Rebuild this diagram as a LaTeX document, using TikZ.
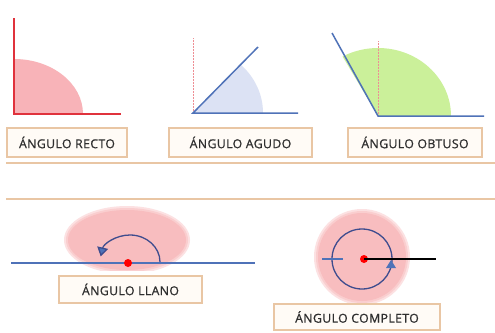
\documentclass[tikz,border=0pt]{standalone}
\usepackage{fontspec}
\setmainfont{Open Sans}
\usetikzlibrary{arrows.meta}
\definecolor{tan}{HTML}{E9C6A4}
\definecolor{cream}{HTML}{FFFBF6}
\definecolor{txt}{HTML}{2E2E2E}
\definecolor{lblue}{HTML}{4F72B8}
\definecolor{dblue}{HTML}{3E4C8E}
\definecolor{rred}{HTML}{E0323C}
\definecolor{pinkA}{HTML}{F8B3B8}
\definecolor{pinkB}{HTML}{F8BDBF}
\definecolor{lav}{HTML}{DCE2F4}
\definecolor{lgreen}{HTML}{CBF09A}
\begin{document}
\begin{tikzpicture}[x=1pt,y=-1pt,
  lbl/.style={draw=tan,line width=1.2pt,fill=cream,text=txt,inner sep=0pt,
    font=\fontsize{12.3}{13}\selectfont\addfontfeatures{LetterSpace=3,FakeBold=0.8},anchor=center},
  sep/.style={draw=tan,line width=1.2pt},
  ray/.style={draw=lblue,line width=1.5pt},
  aux/.style={draw=rred!55,line width=0.5pt,densely dotted}]
\useasboundingbox (0,0) rectangle (495,332);
\fill[white] (0,0) rectangle (495,332);
% --- recto
\coordinate (vR) at (14,114);
\fill[pinkA] (vR) -- (83,114) arc[start angle=0,end angle=-90,x radius=69,y radius=55] -- cycle;
\draw[rred,line width=1.6pt] (14,18) -- (vR) -- (121,114);
\node[lbl,minimum width=120pt,minimum height=29pt] (lr) at (67,142.5) {ÁNGULO RECTO};
% --- agudo
\coordinate (vA) at (193,113);
\fill[lav] (vA) -- (263,113) arc[start angle=0,end angle=-47,x radius=70,y radius=66] -- cycle;
\draw[aux] (193,38) -- (vA);
\coordinate (aA) at (258,47);
\coordinate (bA) at (298,113);
\draw[ray] (aA) -- (vA) -- (bA);
\node[lbl,minimum width=143pt,minimum height=29pt] (la) at (240.5,142.5) {ÁNGULO AGUDO};
% --- obtuso
\coordinate (vO) at (378,116);
\fill[lgreen] (vO) -- (451,116) arc[start angle=0,end angle=-119,x radius=73,y radius=68] -- cycle;
\draw[aux] (378,41) -- (vO);
\coordinate (aO) at (332,33);
\coordinate (bO) at (484,116);
\draw[ray] (aO) -- (vO) -- (bO);
\node[lbl,minimum width=134pt,minimum height=29pt] (lo) at (415,142.5) {ÁNGULO OBTUSO};
% separators
\coordinate (s1a) at (6,163); \coordinate (s1b) at (495,163);
\coordinate (s2a) at (6,199); \coordinate (s2b) at (495,199);
\draw[sep] (s1a) -- (s1b);
\draw[sep] (s2a) -- (s2b);
% --- llano
\begin{scope}
\clip (0,200) rectangle (495,270);
\fill[pinkB!45] (127,240) ellipse[x radius=63,y radius=34];
\fill[pinkB!75] (127,240) ellipse[x radius=61,y radius=32];
\fill[pinkB] (127,240) ellipse[x radius=59,y radius=30];
\end{scope}
\coordinate (lL) at (11,263);
\coordinate (rL) at (255,263);
\draw[ray] (lL) -- (rL);
\draw[dblue,line width=1.3pt,-{Triangle[length=9pt,width=11pt,fill=lblue]}]
  (160,262) arc[start angle=0,end angle=-168,x radius=30,y radius=27];
\node[circle,fill=red,inner sep=0pt,minimum size=8pt] (dL) at (128,263) {};
\node[lbl,minimum width=143pt,minimum height=27pt] (ll) at (130.5,289.5) {ÁNGULO LLANO};
% --- completo
\fill[pinkB!45] (362,257) circle[radius=48];
\fill[pinkB!75] (362,257) circle[radius=46];
\fill[pinkB] (362,257) circle[radius=44];
\draw[dblue,line width=1.3pt] (362,259) circle[radius=30];
\coordinate (t1) at (322,259); \coordinate (t2) at (343,259);
\draw[lblue,line width=1.2pt] (t1) -- (t2);
\node[circle,fill=red,inner sep=0pt,minimum size=8pt] (dC) at (364,259) {};
\coordinate (eC) at (436,259);
\draw[black,line width=2.4pt] (dC.center) -- (eC);
\fill[lblue] (386,268) -- (396,268) -- (391,260) -- cycle;
\node[lbl,minimum width=166pt,minimum height=26pt] (lc) at (357,317) {ÁNGULO COMPLETO};
\end{tikzpicture}
\end{document}
